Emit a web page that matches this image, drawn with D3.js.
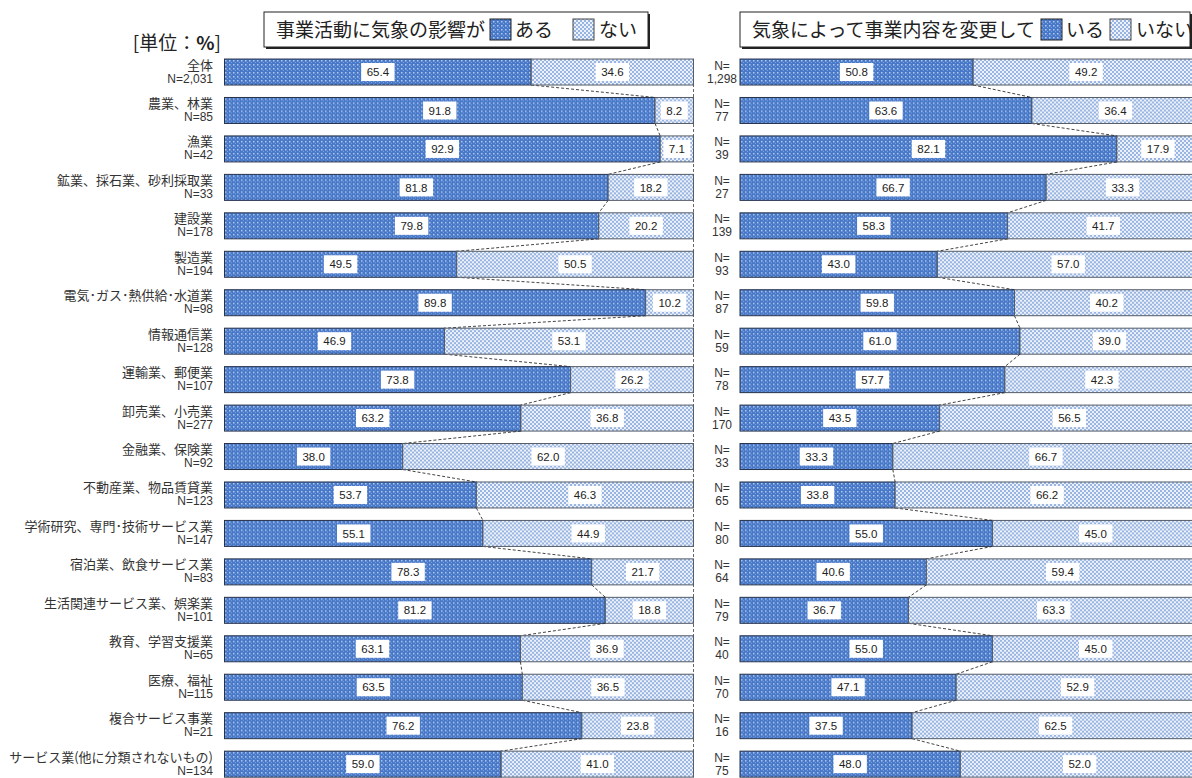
<!DOCTYPE html>
<html lang="ja">
<head>
<meta charset="utf-8">
<script src="https://cdn.jsdelivr.net/npm/d3@7"></script>
<style>
  html, body { margin: 0; padding: 0; background: #ffffff; }
  svg { display: block; }
  .jp { font-family: "Noto Sans CJK JP", "Noto Sans", sans-serif; }
  .num { font-family: "Liberation Sans", Arial, "Noto Sans CJK JP", sans-serif; }
</style>
</head>
<body>
<svg id="chart" width="1192" height="778"></svg>
<script>
// 業種（カテゴリ）
const categories = [
  "全体", "農業、林業", "漁業", "鉱業、採石業、砂利採取業", "建設業", "製造業",
  "電気･ガス･熱供給･水道業", "情報通信業", "運輸業、郵便業", "卸売業、小売業",
  "金融業、保険業", "不動産業、物品賃貸業", "学術研究、専門･技術サービス業",
  "宿泊業、飲食サービス業", "生活関連サービス業、娯楽業", "教育、学習支援業",
  "医療、福祉", "複合サービス事業", "サービス業(他に分類されないもの)"
];
// 事業活動に気象の影響が ある／ない
const sampleN1 = ["2,031", "85", "42", "33", "178", "194", "98", "128", "107", "277",
  "92", "123", "147", "83", "101", "65", "115", "21", "134"];
const affectYes = [65.4, 91.8, 92.9, 81.8, 79.8, 49.5, 89.8, 46.9, 73.8, 63.2,
  38.0, 53.7, 55.1, 78.3, 81.2, 63.1, 63.5, 76.2, 59.0];
const affectNo = [34.6, 8.2, 7.1, 18.2, 20.2, 50.5, 10.2, 53.1, 26.2, 36.8,
  62.0, 46.3, 44.9, 21.7, 18.8, 36.9, 36.5, 23.8, 41.0];
// 気象によって事業内容を変更して いる／いない
const sampleN2 = ["1,298", "77", "39", "27", "139", "93", "87", "59", "78", "170",
  "33", "65", "80", "64", "79", "40", "70", "16", "75"];
const changeYes = [50.8, 63.6, 82.1, 66.7, 58.3, 43.0, 59.8, 61.0, 57.7, 43.5,
  33.3, 33.8, 55.0, 40.6, 36.7, 55.0, 47.1, 37.5, 48.0];
const changeNo = [49.2, 36.4, 17.9, 33.3, 41.7, 57.0, 40.2, 39.0, 42.3, 56.5,
  66.7, 66.2, 45.0, 59.4, 63.3, 45.0, 52.9, 62.5, 52.0];

const legend1 = { title: "事業活動に気象の影響が", yes: "ある", no: "ない" };
const legend2 = { title: "気象によって事業内容を変更して", yes: "いる", no: "いない" };

const svg = d3.select("#chart");
const defs = svg.append("defs");

// dotted fill for the "yes" segment
const pDark = defs.append("pattern").attr("id", "pDark")
  .attr("patternUnits", "userSpaceOnUse").attr("width", 4).attr("height", 4);
pDark.append("rect").attr("width", 4).attr("height", 4).attr("fill", "#4878c8");
pDark.append("rect").attr("x", 1).attr("y", 1).attr("width", 1.5).attr("height", 1.5).attr("fill", "#b3caee");
pDark.append("rect").attr("x", 3).attr("y", 3).attr("width", 1).attr("height", 1).attr("fill", "#7fa1da");

// checkered fill for the "no" segment
const pLight = defs.append("pattern").attr("id", "pLight")
  .attr("patternUnits", "userSpaceOnUse").attr("width", 4).attr("height", 4);
pLight.append("rect").attr("width", 4).attr("height", 4).attr("fill", "#edf2fa");
pLight.append("rect").attr("x", 0).attr("y", 0).attr("width", 2).attr("height", 2).attr("fill", "#98b4e0");
pLight.append("rect").attr("x", 2).attr("y", 2).attr("width", 2).attr("height", 2).attr("fill", "#98b4e0");

const y = d3.scaleBand()
  .domain(categories)
  .range([52.8, 52.8 + 19 * 38.45])
  .paddingInner(0.324)
  .paddingOuter(0.162);

const xL = d3.scaleLinear().domain([0, 100]).range([224.5, 693.5]);
const xR = d3.scaleLinear().domain([0, 100]).range([740, 1199]);

function drawPanel(x, yes, no) {
  const g = svg.append("g");
  const bw = y.bandwidth();

  // dashed 100% guide
  g.append("line")
    .attr("x1", x(100)).attr("x2", x(100))
    .attr("y1", y(categories[0])).attr("y2", y(categories[categories.length - 1]) + bw)
    .attr("stroke", "#666").attr("stroke-width", 1).attr("stroke-dasharray", "3,2");

  // dashed connectors between the yes/no boundaries of adjacent rows
  const links = d3.range(categories.length - 1);
  g.selectAll("line.link").data(links).join("line")
    .attr("class", "link")
    .attr("x1", i => x(yes[i])).attr("y1", i => y(categories[i]) + bw)
    .attr("x2", i => x(yes[i + 1])).attr("y2", i => y(categories[i + 1]))
    .attr("stroke", "#444").attr("stroke-width", 1).attr("stroke-dasharray", "3,2");

  const rows = g.selectAll("g.row").data(categories).join("g")
    .attr("class", "row")
    .attr("transform", d => `translate(0,${y(d)})`);

  rows.append("rect")
    .attr("x", x(0)).attr("y", 0)
    .attr("width", (d, i) => x(yes[i]) - x(0)).attr("height", bw)
    .attr("fill", "url(#pDark)").attr("stroke", "#26324a").attr("stroke-width", 1);

  rows.append("rect")
    .attr("x", (d, i) => x(yes[i])).attr("y", 0)
    .attr("width", (d, i) => x(yes[i] + no[i]) - x(yes[i])).attr("height", bw)
    .attr("fill", "url(#pLight)").attr("stroke", "#555c66").attr("stroke-width", 1);

  // boxed value labels centred in each segment
  function valueLabel(sel, cx, val) {
    const lg = sel.append("g").attr("transform", (d, i) => `translate(${cx(i)},${bw / 2})`);
    lg.append("text").attr("class", "num")
      .attr("text-anchor", "middle").attr("dy", "0.36em")
      .attr("font-size", 11.5).attr("fill", "#222")
      .text((d, i) => val[i].toFixed(1));
    lg.insert("rect", "text")
      .attr("fill", "#ffffff")
      .each(function () {
        const w = this.parentNode.querySelector("text").getComputedTextLength() + 11;
        d3.select(this).attr("x", -w / 2).attr("y", -9).attr("width", w).attr("height", 18);
      });
  }
  valueLabel(rows, i => (x(0) + x(yes[i])) / 2, yes);
  valueLabel(rows, i => (x(yes[i]) + x(yes[i] + no[i])) / 2, no);
  return g;
}

drawPanel(xL, affectYes, affectNo);
drawPanel(xR, changeYes, changeNo);

// category names with sample sizes
const labels = svg.append("g").attr("fill", "#333");
categories.forEach((c, i) => {
  const cy = y(c) + y.bandwidth() / 2;
  labels.append("text").attr("class", "jp")
    .attr("x", 213).attr("y", cy - 2.5).attr("text-anchor", "end")
    .attr("font-size", 13).text(c);
  labels.append("text").attr("class", "num")
    .attr("x", 213).attr("y", cy + 10.5).attr("text-anchor", "end")
    .attr("font-size", 12).text("N=" + sampleN1[i]);
  labels.append("text").attr("class", "num")
    .attr("x", 722).attr("y", cy - 2.5).attr("text-anchor", "middle")
    .attr("font-size", 12).text("N=");
  labels.append("text").attr("class", "num")
    .attr("x", 722).attr("y", cy + 10.5).attr("text-anchor", "middle")
    .attr("font-size", 12).text(sampleN2[i]);
});

// unit label
const unit = svg.append("text").attr("class", "jp")
  .attr("x", 221).attr("y", 50).attr("text-anchor", "end")
  .attr("font-size", 19).attr("fill", "#222");
unit.append("tspan").text("[単位");
unit.append("tspan").text("：");
unit.append("tspan").attr("font-weight", "bold").text("%");
unit.append("tspan").text("]");

// legend boxes
function drawLegend(x0, x1, lg, swYes, swNo) {
  const g = svg.append("g");
  g.append("rect").attr("x", x0 + 2).attr("y", 14).attr("width", x1 - x0).attr("height", 35).attr("fill", "#222");
  g.append("rect").attr("x", x0).attr("y", 12).attr("width", x1 - x0).attr("height", 35)
    .attr("fill", "#fff").attr("stroke", "#222").attr("stroke-width", 1);
  g.append("text").attr("class", "jp").attr("x", x0 + 12).attr("y", 37)
    .attr("font-size", 19).attr("fill", "#222").text(lg.title);
  g.append("rect").attr("x", swYes).attr("y", 19).attr("width", 21).attr("height", 21)
    .attr("fill", "url(#pDark)").attr("stroke", "#222");
  g.append("text").attr("class", "jp").attr("x", swYes + 25).attr("y", 37)
    .attr("font-size", 19).attr("fill", "#222").text(lg.yes);
  g.append("rect").attr("x", swNo).attr("y", 19).attr("width", 21).attr("height", 21)
    .attr("fill", "url(#pLight)").attr("stroke", "#444");
  g.append("text").attr("class", "jp").attr("x", swNo + 26).attr("y", 37)
    .attr("font-size", 19).attr("fill", "#222").text(lg.no);
}
drawLegend(264, 648, legend1, 490, 573);
drawLegend(740, 1190, legend2, 1041, 1110);
</script>
</body>
</html>
